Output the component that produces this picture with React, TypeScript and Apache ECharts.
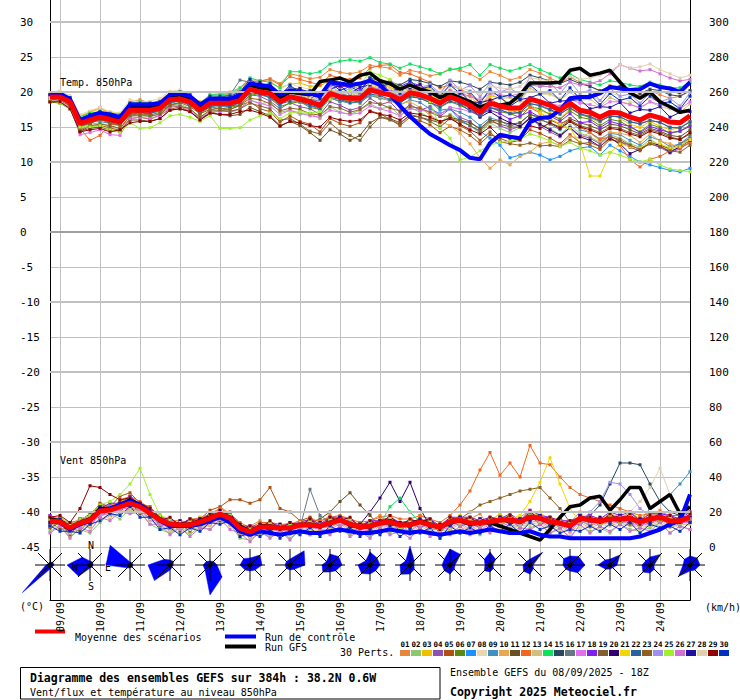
import React, { useEffect, useRef } from "react";
import * as echarts from "echarts";

const FONT = "'DejaVu Sans Mono', 'Liberation Mono', monospace";

// forecast steps (hours from 08/09 18Z), 6h
const STEPS = Array.from({ length: 65 }, (_, i) => String(i * 6));
const DAY_LABELS = ["09/09", "10/09", "11/09", "12/09", "13/09", "14/09", "15/09", "16/09", "17/09", "18/09", "19/09", "20/09", "21/09", "22/09", "23/09", "24/09"];

const PERT_COLORS = ["#e8873a", "#8cc870", "#f0c000", "#9050b0", "#b05010", "#5a8a10", "#1e90ff", "#e8d8b0", "#4090c0", "#e8a850", "#6a5020", "#f06820", "#d0c080", "#10e060", "#284860", "#687880", "#e070f0", "#8020f0", "#806030", "#300070", "#f0d800", "#2860a0", "#906020", "#a090f0", "#a0f030", "#d070d0", "#2010a0", "#e0d0b0", "#900000", "#0030c0"];

// ---- Temperature 850hPa (°C)
const MEAN_T = [19.3, 19.3, 18.6, 15.5, 16, 16.4, 16.1, 15.7, 17.4, 17.4, 17.4, 17.7, 18.9, 19, 18.6, 17.4, 18.4, 18.4, 18.4, 18.8, 20.4, 20, 19.8, 18.6, 19.3, 19, 18.6, 18.1, 19.8, 19.3, 19.1, 19.1, 20.3, 19.9, 19.6, 18.9, 19.9, 19.6, 19.1, 18.4, 19.3, 18.8, 18.1, 17.1, 18.4, 18, 17.7, 17.7, 19, 18.6, 18.1, 17.4, 18.4, 17.4, 17.1, 16.4, 17.1, 17, 16.4, 16, 16.7, 16.3, 15.7, 15.6, 16.6];
const CTRL_T = [19.6, 19.8, 19, 16, 16.6, 17, 16.8, 16.4, 18.2, 18.2, 18.2, 18.4, 19.6, 19.8, 19.4, 18.2, 19, 19, 19, 19.6, 21.2, 21, 20.8, 19.6, 20.2, 20, 19.8, 19.4, 21.4, 21.2, 21, 21.2, 21.6, 21, 19.6, 18, 16.5, 15.2, 14, 13.2, 12.4, 11.7, 10.6, 10.4, 12.7, 13.9, 13.6, 13.4, 15.7, 16.3, 16.4, 17.4, 19.1, 19.3, 19.3, 19.8, 20.7, 20.5, 20.3, 20.4, 21.2, 20.7, 20.5, 20, 21.4];
const GFS_T = [19.4, 19.6, 18.8, 15.8, 16.4, 16.8, 16.4, 16, 17.8, 17.8, 17.8, 18, 19.4, 19.6, 19, 17.8, 18.8, 18.8, 18.8, 19.4, 21, 20.6, 20.4, 19.2, 20, 19.8, 19.6, 21.5, 21.7, 22, 21.4, 22.4, 22.7, 21.6, 21.2, 20.4, 21, 20.4, 20, 19.2, 19.8, 19.2, 18.6, 17.8, 18.4, 18.1, 18.4, 19.6, 21.3, 21.3, 21.3, 21.4, 23.1, 23.4, 22.4, 22.7, 23.1, 21.4, 19.9, 19.1, 20, 18.6, 17.9, 17.1, 17.4];

const T01 = [19.6, 20, 19.2, 16.4, 17.2, 17.8, 16.8, 16.2, 18.6, 18.9, 18.4, 18.8, 19.9, 19.7, 19.3, 18, 19.5, 19.8, 19.6, 20.4, 21.8, 21.5, 21.9, 21.2, 22.6, 22.3, 21.9, 22.1, 23.2, 22.8, 22.6, 22.9, 23.8, 23.6, 23.4, 22.4, 23.1, 22.8, 22.3, 22.6, 23.3, 23.1, 22.6, 21.8, 22.9, 22.4, 21.7, 22.1, 23.2, 22.7, 22, 21.3, 22.1, 21.4, 20.8, 20.1, 20.9, 20.6, 19.8, 19.5, 20.2, 19.6, 19.1, 19.4, 20.1];
const T02 = [19, 19.1, 18.2, 14.9, 15.4, 15.6, 15.1, 14.7, 16.5, 16.8, 16.4, 16.9, 18.1, 18.3, 17.6, 16.3, 17.4, 17.8, 17.1, 17.5, 18.9, 18.3, 18.6, 17.1, 17.4, 16.8, 16.9, 16.2, 17.9, 17.1, 16.8, 17.4, 18.3, 17.6, 17.9, 16.6, 17.8, 17.1, 16.3, 15.6, 16.8, 15.9, 15.2, 14.1, 15.6, 14.8, 14.2, 14.9, 16.3, 15.4, 14.8, 13.9, 15.2, 14.1, 13.6, 12.8, 13.9, 13.4, 12.6, 12.1, 13.2, 12.4, 11.8, 12.3, 13.4];
const T03 = [19.7, 19.9, 19.3, 16.6, 17.1, 17.6, 17.1, 16.9, 18.3, 18.5, 18.6, 18.4, 19.4, 20.1, 19.5, 18.6, 19.1, 19.4, 19.7, 19.9, 21.2, 20.9, 21.3, 20.6, 21.1, 21.3, 20.8, 20.9, 21.6, 21.1, 20.7, 21, 21.9, 21.3, 20.6, 20.2, 21.1, 20.4, 20.6, 19.4, 20.1, 19.3, 18.8, 17.9, 19.5, 19.1, 18.4, 19, 17.8, 17.3, 16.9, 16.2, 17.6, 16.8, 16.3, 15.6, 16.8, 16.2, 15.4, 14.9, 15.8, 15.1, 14.6, 14.9, 15.8];
const T04 = [19.2, 19.5, 18.9, 15.4, 16.4, 16.9, 16.5, 15.6, 17.9, 17.3, 17.1, 17.9, 19.2, 19.1, 18.4, 17, 18.4, 18.1, 18, 18.2, 19.6, 19.4, 18.7, 17.6, 18.5, 17.9, 17.6, 16.8, 18.6, 18.1, 17.4, 17.8, 19.1, 18.2, 18.6, 17.1, 18.2, 17.4, 17.9, 16.5, 17.6, 16.4, 15.8, 14.6, 16.1, 15.2, 14.6, 15.1, 16.4, 15.1, 14.3, 13.6, 14.9, 13.8, 13.4, 12.6, 13.8, 12.9, 12.4, 11.8, 12.6, 12.1, 11.3, 11.9, 12.8];
const T05 = [18.7, 18.5, 17.8, 14.4, 15.1, 15.2, 14.9, 14.5, 16.2, 16.4, 16.1, 16.7, 17.5, 17.9, 17.2, 16, 16.9, 17.4, 17.5, 18.1, 18.6, 17.6, 17.2, 15.7, 16.6, 15.8, 15.4, 14.3, 16.2, 15.5, 15.1, 15.6, 17.3, 16.9, 16.1, 15.2, 16.4, 15.9, 15.3, 14.2, 15.1, 14.6, 13.8, 12.6, 13.9, 13.4, 12.8, 13.1, 14.6, 14.1, 13.4, 12.6, 13.9, 12.8, 12.4, 11.8, 13.2, 12.9, 12.1, 11.6, 12.8, 12.4, 11.9, 12.6, 13.4];
const T06 = [19.3, 19, 18.3, 15.1, 15.6, 16.4, 15.7, 15.2, 17.1, 16.8, 17, 17.3, 18.2, 18.5, 18.4, 16.8, 17.9, 17.6, 17.8, 18.1, 19.5, 19.8, 19.1, 17.9, 18.4, 18.6, 17.8, 17.5, 19.2, 18.6, 18.9, 18.4, 19.6, 19.2, 18.8, 18.4, 19.5, 19.1, 18.5, 17.8, 18.6, 18.1, 17.4, 16.5, 17.8, 17.2, 16.9, 16.4, 17.9, 17.6, 16.8, 16.1, 17.3, 16.4, 16.1, 15.2, 16.1, 15.8, 15, 14.3, 15.4, 14.9, 14.1, 14.4, 15.3];
const T07 = [19.4, 19.4, 18.8, 15.8, 16.2, 16.8, 16.4, 16, 17.8, 17.8, 17.6, 18, 19.2, 19.2, 18.8, 17.8, 18.6, 18.6, 18.8, 19.2, 20.8, 20.4, 20, 19, 19.6, 19.4, 19, 18.6, 20, 19.6, 19.4, 19.4, 20.6, 20.2, 19.8, 19, 19.8, 19.2, 18.6, 17.4, 17.6, 16, 15.2, 14.4, 13.4, 12.4, 10.6, 11, 11.4, 11, 10.3, 10.8, 11.6, 12, 12.2, 11, 12.4, 11.6, 10.8, 10, 9.6, 9.2, 8.8, 8.6, 9.1];
const T08 = [19.9, 20.2, 19.5, 16.8, 17.3, 17.8, 17.2, 17, 18.9, 18.6, 18.7, 19.1, 20.1, 20.3, 19.7, 18.5, 19.6, 19.9, 20.1, 20.6, 22, 21.4, 21.7, 20.4, 21.2, 20.7, 20.4, 19.8, 21.6, 21.1, 21.3, 20.8, 22.4, 21.8, 21.5, 20.6, 21.9, 21.2, 20.7, 19.9, 21.2, 20.6, 19.6, 18.9, 20.2, 19.4, 19.3, 18.6, 20.4, 19.7, 19.6, 19.1, 20.3, 19.2, 19.4, 18.8, 19.9, 19.4, 18.6, 18.4, 19.1, 18.6, 17.9, 18.1, 19.2];
const T09 = [19.1, 19.3, 18.1, 15.3, 15.9, 15.8, 15.5, 15.3, 17.3, 17.1, 16.9, 17.3, 18.4, 18.8, 18.1, 17.3, 18.2, 17.9, 18.1, 18.6, 20.2, 19.6, 19.2, 18.1, 19.4, 18.5, 18.1, 17.5, 19.1, 18.7, 18.4, 18.6, 19.5, 19.1, 18.8, 18.1, 18.9, 18.5, 17.6, 16.9, 17.6, 17.1, 16.4, 15.2, 16.3, 15.9, 15.1, 15.6, 16.8, 16.2, 15.4, 14.6, 15.8, 14.6, 14.2, 13.3, 14.1, 13.9, 13.1, 12.4, 13.6, 13.1, 12.2, 12.6, 13.7];
const T10 = [19.2, 19.5, 18.7, 15.3, 16.1, 16.3, 16.1, 15.5, 17.5, 17.7, 17.3, 17.5, 18.7, 19.1, 18.5, 17.5, 18.3, 18.1, 18.6, 18.9, 20.3, 20.1, 19.5, 18.7, 19.1, 18.6, 18.5, 17.8, 19.7, 18.9, 18.6, 18.9, 19.6, 19.3, 18.7, 18.3, 18.6, 17.8, 16.7, 15.8, 15.2, 14.1, 12.6, 10.6, 9.1, 10.3, 9.6, 10.8, 11.4, 12.6, 12.9, 12.4, 13.6, 13.5, 14.2, 13, 14.3, 14.1, 13.8, 12.8, 14, 13, 12.6, 12.1, 13];
const T11 = [18.6, 18.4, 17.6, 14.4, 14.8, 15, 14.6, 14.4, 16, 16, 15.8, 16.2, 17.4, 17.6, 17.2, 16.2, 17, 16.8, 16.6, 16.8, 17.8, 17.2, 16.6, 15.2, 15.8, 15.2, 14.2, 13.1, 14.6, 14, 13.1, 13.8, 15.6, 16.4, 16.2, 15.6, 16.6, 16.4, 16, 15.6, 16.4, 16, 15.6, 14.8, 16, 15.8, 15.4, 15.6, 16.8, 16.4, 16, 15.4, 16.2, 15.6, 15.2, 14.6, 15.4, 15.2, 14.6, 14, 14.8, 14.4, 13.8, 13.6, 14.6];
const T12 = [19, 19, 18, 14.8, 13.1, 13.8, 15.4, 15.2, 17.2, 17, 17.2, 17.6, 18.8, 18.6, 18.4, 17, 18.4, 18.4, 18.6, 19.4, 21.4, 21.6, 21.8, 21, 22.2, 21.8, 21.4, 21, 22.4, 22, 21.8, 22, 23.4, 23.8, 23.9, 22.8, 22.6, 22, 21.4, 20.6, 21, 20.4, 19.6, 18.4, 19, 18.2, 17.4, 17, 17.8, 17, 16.2, 15.4, 16, 15, 14.2, 13.2, 13.6, 12.4, 10.3, 9.3, 10.4, 10.8, 11.6, 12, 12.8];
const T13 = [19.5, 19.7, 18.9, 15.9, 16.3, 16.9, 16.5, 16.1, 17.9, 17.6, 17.9, 18.1, 19.1, 19.5, 18.9, 17.9, 18.9, 18.6, 18.9, 19.3, 20.9, 20.4, 20.3, 19.1, 19.9, 19.4, 19.3, 18.5, 20.3, 19.6, 19.8, 19.4, 20.9, 20.4, 20.3, 19.4, 20.7, 20.2, 19.9, 18.9, 20.3, 19.6, 19.3, 18.1, 19.7, 19.1, 19.2, 18.8, 20.6, 19.8, 19.8, 18.8, 20, 18.8, 19, 17.9, 19.2, 18.6, 18.3, 17.6, 18.6, 17.9, 17.6, 17.1, 18.3];
const T14 = [19.6, 19.8, 19.2, 16.4, 17, 17.2, 17, 16.8, 18.4, 18.6, 18.4, 18.6, 19.8, 20, 19.6, 18.4, 19.6, 19.6, 19.8, 20.6, 22, 21.6, 21.4, 20.6, 22.9, 22.9, 22.6, 22.9, 24, 24.4, 24.6, 24.4, 24.9, 24.2, 24, 23.4, 24, 23.6, 23.2, 22.6, 23.2, 23.4, 23.9, 22.4, 23.9, 23.4, 23, 23.4, 23.9, 23.2, 22.6, 22, 22.6, 21.8, 21.4, 21, 21.6, 21.4, 21, 20.8, 21.4, 21, 20.6, 20.6, 21.4];
const T15 = [19.2, 19.4, 18.6, 15.6, 16.2, 16.6, 16.4, 16, 17.6, 17.6, 17.6, 18, 19.2, 19.4, 19, 17.8, 18.8, 19, 19, 19.6, 21.2, 21, 20.8, 19.8, 20.6, 20.4, 20, 19.8, 21.2, 20.8, 20.8, 21, 22, 21.6, 21.4, 21, 21.8, 21.6, 21.2, 20.8, 21.6, 21.4, 21, 20.4, 21.4, 21.2, 21, 21.4, 22.4, 22, 21.6, 21.2, 21.8, 21.2, 20.8, 20.2, 20.8, 20.8, 20.2, 19.8, 20.4, 20.2, 19.6, 19.4, 20.2];
const T16 = [19.2, 19.2, 18.6, 15.6, 16.2, 16.6, 16.2, 15.8, 17.4, 17.6, 17.4, 17.8, 19, 19.2, 18.8, 17.6, 18.8, 19.2, 19.6, 21.7, 21.4, 20.6, 20.4, 19.2, 19.8, 19.6, 19.2, 18.6, 20.2, 19.8, 19.4, 19.6, 20.8, 20.2, 20, 19.2, 20, 19.6, 19, 18.4, 19, 18.4, 17.6, 16.6, 17.8, 17.4, 17, 17, 18.4, 18, 17.4, 16.8, 17.8, 16.8, 16.4, 15.8, 16.6, 16.4, 15.8, 15.4, 16, 15.6, 15, 14.8, 15.8];
const T17 = [18.8, 18.6, 17.8, 13.9, 14.2, 14.6, 13.9, 13.8, 16.2, 16.4, 16.2, 16.6, 17.8, 18, 17.4, 16.2, 17.2, 17.2, 17.2, 17.6, 18.8, 18.4, 18, 16.8, 17.4, 17, 16.6, 16.4, 17.4, 17.1, 16.8, 17, 18, 17.6, 17.2, 16.6, 17.6, 17.4, 17.2, 16.8, 17.8, 17.6, 17.2, 16.6, 17.8, 17.6, 17.4, 17.6, 19, 18.6, 18.4, 18, 19, 18.4, 18.2, 17.8, 18.6, 18.6, 18.2, 17.8, 18.6, 18.2, 17.8, 17.6, 18.6];
const T18 = [19.4, 19.7, 18.9, 15.9, 16.5, 16.4, 16.6, 15.9, 17.5, 17.9, 17.9, 18.1, 19.3, 19.2, 19.1, 17.7, 18.5, 18.9, 18.7, 19.4, 20.8, 20.1, 20.6, 19.3, 20.1, 19.9, 19.6, 19.2, 21, 20.7, 20.9, 20.4, 21.8, 21.2, 21.6, 20.8, 21.4, 20.9, 20.1, 19.4, 19.2, 18.4, 17.9, 16.8, 17.4, 16.9, 16.1, 16.6, 17.2, 16.4, 16.6, 15.8, 16.9, 15.6, 15.8, 14.9, 15.8, 15.4, 15.1, 14.2, 15.1, 14.6, 14.2, 14.4, 15.1];
const T19 = [18.6, 18.8, 18, 14.6, 15.2, 15.4, 15.2, 14.8, 16.6, 16.6, 16.6, 16.8, 18, 18, 17.6, 16.4, 17.4, 17.4, 17.2, 17.6, 18.4, 18, 17.6, 16, 16.2, 15.4, 14.4, 14, 15.6, 14.4, 13.8, 13.1, 15, 16.4, 16, 15.4, 16.8, 16.4, 15.8, 15, 16.2, 15.8, 15.2, 14.4, 15.8, 15.4, 15, 15, 16.4, 16, 15.6, 15, 16, 15.2, 14.8, 14.2, 15, 14.8, 14.2, 13.8, 14.6, 14.2, 13.6, 13.2, 14];
const T20 = [19.2, 19.4, 18.5, 15.7, 15.9, 16.5, 16.1, 15.7, 17.3, 17.7, 17.3, 17.7, 18.9, 18.9, 18.7, 17.3, 18.5, 18.5, 18.3, 18.9, 20.3, 20.3, 19.7, 18.7, 19.3, 19.3, 18.5, 18.3, 19.7, 19.5, 19.1, 19.3, 20.3, 20.1, 19.7, 19.1, 20.1, 19.9, 19.3, 18.7, 19.3, 18.6, 17.8, 16.4, 17.2, 16.3, 15.6, 15.1, 16.2, 15.4, 14.6, 13.8, 14.9, 13.6, 13.1, 12.2, 13.4, 12.6, 11.2, 11.8, 12.9, 12.3, 11.4, 12.2, 13.1];
const T21 = [19.4, 19.4, 18.8, 15.8, 16.2, 16.8, 16.4, 16, 17.6, 17.6, 17.6, 18, 19.2, 19.4, 18.8, 17.6, 18.6, 18.6, 18.8, 19.2, 20.8, 20.4, 20, 19.4, 20, 19.6, 19.2, 18.8, 20.4, 20, 19.8, 19.8, 21, 20.6, 20.2, 19.6, 20.4, 20, 19.6, 18.8, 19.6, 19, 18.4, 17.4, 18.4, 17.8, 17.4, 17.4, 18.4, 17, 16.2, 15.4, 14.8, 12.7, 8, 8, 11.3, 12.6, 12.2, 12, 12.8, 12.6, 12, 12.2, 13.2];
const T22 = [19, 19.1, 18.3, 15.3, 15.5, 16.1, 15.7, 15.5, 16.9, 17.1, 16.9, 17.5, 18.5, 18.7, 18.1, 17.1, 17.9, 18.1, 17.9, 18.5, 19.9, 19.7, 19.3, 18.3, 18.7, 18.7, 18.1, 17.7, 19.3, 18.9, 18.5, 18.7, 19.7, 19.5, 18.9, 18.5, 19.3, 19.1, 18.5, 17.9, 18.7, 18.3, 17.3, 16.6, 17.7, 17.5, 16.9, 17.1, 18.3, 18.1, 17.5, 16.9, 17.7, 16.9, 16.5, 15.9, 16.5, 16.5, 15.7, 15.5, 15.9, 15.7, 14.9, 14.9, 15.7];
const T23 = [18.8, 19.1, 18.1, 15.1, 15.5, 16.1, 15.5, 15.3, 16.7, 16.9, 16.7, 17.1, 18.1, 18.5, 17.9, 16.9, 17.5, 17.7, 17.5, 18.1, 19.1, 18.9, 18.3, 17.3, 17.7, 17.5, 16.9, 16.7, 17.9, 17.7, 17.1, 17.5, 18.5, 18.3, 17.7, 17.3, 17.9, 17.7, 17.1, 16.5, 16.6, 15.2, 14.4, 13.1, 14.3, 12.9, 12.6, 12.4, 12.7, 12.3, 12.4, 12.2, 13.1, 12.6, 12.8, 12.2, 13.6, 13.2, 12.4, 11.8, 12.6, 12.2, 11.6, 11.4, 12.4];
const T24 = [19.6, 19.8, 19, 16, 16.6, 17, 16.6, 16.2, 17.8, 18, 17.8, 18.2, 19.4, 19.6, 19.2, 18, 19, 19, 19, 19.4, 21.3, 20.2, 20.9, 19, 20.4, 19.5, 19.8, 18.7, 21, 19.9, 20.5, 19.7, 21.6, 20.6, 21.1, 19.6, 21.6, 20.5, 21.1, 19.8, 21.7, 20.3, 20.9, 19.3, 21.3, 20, 20.5, 19.7, 22.1, 20.8, 21.3, 19.8, 21.5, 19.8, 20.3, 18.8, 20.5, 19.4, 19.7, 18.4, 19.9, 18.6, 19.1, 18, 19.9];
const T25 = [18.8, 18.4, 17.6, 15, 15, 15.2, 14.6, 14.2, 15.6, 14.8, 14.9, 15.6, 16.6, 16.8, 16.4, 15.8, 16.6, 14.8, 14.8, 14.9, 16, 16.6, 17, 16.2, 17, 17.2, 17, 17.2, 19, 19.6, 20.2, 21, 22.9, 22.4, 21.8, 20.6, 20.2, 19.4, 18.6, 14.8, 13.4, 10.3, 10.7, 11.6, 12.4, 12.8, 13, 13.2, 14, 13.6, 13, 12.2, 12.8, 12, 11.6, 11, 11.4, 11, 10.4, 10, 10.4, 9.6, 9, 8.8, 8.6];
const T26 = [19.4, 19.6, 18.8, 15.6, 16.2, 16.6, 16.2, 16, 17.6, 17.8, 17.6, 18, 19.2, 19.4, 19, 17.8, 18.6, 18.8, 18.8, 19.2, 20.6, 20.2, 20, 18.8, 19.6, 19.2, 18.8, 18.4, 20, 19.6, 19.4, 19.4, 20.6, 20.4, 20, 19.4, 20.4, 20.2, 19.8, 19.2, 20.2, 19.8, 19.4, 18.8, 19.8, 19.6, 19.4, 19.8, 21, 20.8, 20.8, 20.6, 21.4, 21, 21.2, 21.6, 22.6, 23.9, 23.4, 23, 23.2, 22.6, 22, 21.6, 21.8];
const T27 = [19.6, 19.8, 19, 16, 16.6, 17, 16.8, 16.4, 18.2, 18.2, 18, 18.4, 19.6, 19.8, 19.4, 18.2, 19.2, 19.2, 19.2, 19.8, 20.9, 21.4, 20.3, 20, 19.8, 20.5, 19.1, 19.7, 20.4, 20.9, 19.7, 20.7, 21, 21.5, 20.1, 20.5, 20.6, 21.1, 19.6, 19.9, 19.8, 20.1, 18.6, 18.5, 18.8, 19.3, 18, 18.9, 19.2, 19.7, 18.4, 18.7, 18.8, 18.9, 17.6, 17.9, 17.8, 18.5, 17, 17.5, 17.4, 17.9, 16.4, 17.1, 17.2];
const T28 = [19.2, 19.4, 18.8, 15.8, 16.4, 16.8, 16.4, 16, 17.6, 17.8, 17.8, 18, 19.2, 19.4, 19, 17.8, 18.8, 18.8, 19, 19.4, 20.8, 20.6, 20.2, 19.2, 19.8, 19.6, 19.2, 18.8, 20.4, 20, 19.8, 20, 21.2, 20.8, 20.4, 19.8, 20.8, 20.6, 20.2, 19.8, 20.8, 20.6, 20.2, 19.8, 20.8, 20.6, 20.4, 20.8, 22, 21.8, 21.6, 21.4, 22.2, 21.8, 22, 22.4, 23, 23.9, 23.4, 23.6, 24, 23.2, 22.6, 22, 22.4];
const T29 = [18.6, 18.6, 17.6, 14.3, 14.6, 14.8, 14.3, 14.6, 15.6, 15.8, 15.8, 16.2, 17.4, 17.6, 17.2, 16, 17, 16.8, 16.8, 17.2, 17.4, 17, 16.4, 15.1, 15.8, 15.6, 15.2, 15, 16.4, 16, 15.8, 16, 17.2, 16.8, 16.6, 16, 17, 16.8, 16.4, 15.8, 16.2, 15.4, 14.6, 14, 15, 13.6, 13.4, 13.2, 15.2, 14.8, 15.6, 14.8, 15.8, 15, 14.6, 14, 14.8, 14.6, 14, 13.6, 14.4, 14, 13.4, 13.2, 14.2];
const T30 = [19.6, 19.8, 19.2, 16.2, 16.8, 17.2, 16.8, 16.6, 18.4, 18.4, 18.4, 18.6, 19.8, 20, 19.6, 18.4, 19.4, 19.4, 19.4, 20, 21.8, 20.8, 21.2, 19.4, 21, 19.8, 20.2, 19, 21.4, 20.2, 20.8, 20, 22, 20.8, 21.2, 19.8, 21.6, 20.4, 20.8, 19.4, 21, 19.8, 20, 18.4, 20.4, 19.2, 19.6, 19, 21, 19.8, 20.2, 18.8, 20.6, 19, 19.6, 18.2, 19.8, 18.8, 19.2, 18, 19.4, 18.4, 18.6, 17.6, 19.4];

// ---- Wind 850hPa (km/h)
const MEAN_W = [14.9, 14.4, 10.8, 13.7, 15.4, 20.6, 21.1, 23, 25, 23, 19.4, 15.4, 13.1, 12.6, 12.6, 14.4, 16.4, 18.9, 16.4, 10.8, 8.6, 11.4, 11.4, 11, 10.8, 12.6, 12.6, 12, 13.7, 15.4, 13.1, 11.4, 12, 13.7, 14.4, 12.6, 12.6, 14.4, 12.6, 11.4, 14.4, 15.4, 13.7, 13.9, 14.4, 15.4, 15.4, 14.4, 17.1, 16.4, 14.4, 13.7, 12, 16.4, 15.4, 14.9, 16, 16, 16.4, 14.4, 16, 17.1, 14.9, 14.9, 17.1];
const CTRL_W = [15, 14, 10, 13, 15, 21, 22, 24, 26, 24, 20, 15, 12, 12, 12, 13, 15, 17, 14, 9, 7, 9, 8, 7, 8, 9, 8, 8, 9, 10, 9, 8, 8, 9, 10, 9, 8, 9, 8, 7, 8, 9, 8, 9, 10, 9, 8, 8, 9, 7, 6, 6, 5, 5, 5, 5, 5, 5, 5, 6, 8, 10, 13, 15, 30];
const GFS_W = [16, 15, 11, 14, 16, 22, 22, 24, 27, 24, 20, 16, 13, 13, 13, 15, 17, 19, 17, 12, 9, 12, 12, 11, 11, 13, 13, 12, 14, 16, 13, 11, 12, 14, 15, 13, 13, 15, 13, 11, 14, 15, 13, 14, 14, 12, 10, 8, 6, 4, 10, 17, 23, 24, 28, 29, 21, 27, 34, 34, 22, 26, 30, 19, 23];

const W01 = [18, 16, 13, 12, 19, 24, 18, 27, 29, 21, 23, 14, 16, 10, 15, 17, 14, 23, 19, 10, 12, 15, 9, 12, 14, 11, 17, 14, 18, 13, 16, 10, 15, 18, 12, 14, 11, 18, 16, 9, 17, 13, 16, 19, 11, 18, 15, 17, 21, 14, 17, 11, 14, 20, 13, 17, 14, 20, 15, 17, 14, 21, 13, 18, 16];
const W02 = [9, 12, 6, 10, 8, 14, 19, 16, 22, 20, 13, 10, 8, 11, 7, 12, 10, 15, 13, 5, 4, 8, 6, 9, 5, 9, 7, 10, 8, 12, 7, 9, 6, 10, 8, 11, 7, 9, 10, 5, 10, 8, 11, 7, 12, 9, 13, 8, 11, 13, 8, 10, 6, 12, 9, 11, 8, 13, 10, 9, 11, 14, 8, 12, 10];
const W03 = [14, 17, 12, 16, 13, 25, 21, 22, 29, 24, 18, 19, 12, 15, 11, 17, 16, 21, 17, 14, 8, 13, 14, 10, 13, 12, 15, 11, 16, 14, 15, 13, 10, 15, 17, 12, 14, 16, 11, 13, 14, 18, 13, 16, 15, 19, 14, 17, 16, 20, 15, 17, 12, 16, 18, 14, 19, 15, 20, 14, 18, 16, 17, 14, 19];
const W04 = [12, 15, 9, 14, 17, 19, 24, 21, 27, 22, 20, 13, 14, 12, 13, 15, 18, 17, 15, 12, 7, 12, 10, 13, 9, 14, 11, 12, 12, 17, 11, 13, 14, 11, 16, 10, 13, 15, 12, 12, 12, 16, 11, 14, 16, 13, 17, 12, 19, 15, 13, 15, 10, 17, 14, 16, 15, 18, 14, 15, 14, 18, 16, 13, 18];
const W05 = [17, 15, 13, 16, 17, 25, 23, 29, 31, 25, 23, 17, 16, 13, 16, 16, 21, 23, 27, 27, 25, 27, 34, 22, 20, 15, 17, 12, 15, 14, 12, 14, 11, 15, 13, 14, 12, 16, 13, 13, 14, 17, 13, 16, 14, 17, 15, 16, 16, 17, 14, 15, 11, 18, 14, 16, 15, 17, 16, 16, 15, 18, 14, 16, 16];
const W06 = [13, 16, 10, 15, 14, 22, 20, 23, 24, 24, 18, 16, 12, 13, 11, 15, 15, 19, 17, 9, 9, 10, 12, 10, 11, 11, 13, 13, 12, 16, 12, 12, 11, 14, 13, 13, 11, 15, 11, 12, 13, 16, 12, 15, 13, 16, 14, 15, 16, 17, 13, 14, 13, 15, 16, 14, 17, 15, 17, 13, 17, 16, 16, 14, 18];
const W07 = [16, 13, 12, 13, 17, 21, 22, 22, 26, 21, 20, 14, 14, 12, 14, 13, 18, 18, 17, 10, 10, 11, 12, 10, 12, 12, 14, 11, 15, 14, 14, 10, 13, 13, 15, 12, 14, 13, 14, 10, 15, 14, 15, 13, 15, 14, 16, 13, 18, 15, 15, 13, 11, 17, 14, 16, 15, 17, 15, 15, 15, 18, 14, 16, 16];
const W08 = [13, 10, 9, 8, 13, 15, 19, 18, 23, 19, 17, 11, 11, 8, 11, 10, 14, 14, 14, 7, 7, 7, 9, 6, 9, 8, 10, 8, 11, 10, 10, 7, 10, 9, 11, 8, 10, 9, 10, 7, 11, 10, 11, 9, 11, 10, 13, 10, 14, 11, 12, 9, 10, 11, 12, 10, 13, 12, 14, 10, 13, 12, 13, 11, 15];
const W09 = [13, 17, 10, 16, 14, 23, 20, 24, 23, 25, 17, 18, 11, 15, 12, 16, 19, 17, 19, 10, 12, 10, 14, 9, 14, 12, 16, 10, 17, 14, 16, 11, 14, 12, 17, 11, 15, 13, 15, 9, 16, 14, 17, 12, 16, 14, 18, 12, 19, 15, 17, 12, 15, 15, 18, 13, 19, 16, 20, 15, 22, 26, 30, 36, 43];
const W10 = [17, 14, 13, 14, 18, 21, 24, 24, 29, 24, 22, 16, 16, 13, 15, 15, 19, 20, 19, 12, 11, 12, 14, 11, 13, 13, 15, 13, 17, 16, 16, 12, 15, 15, 17, 13, 15, 15, 15, 12, 17, 16, 17, 15, 17, 16, 18, 15, 20, 17, 17, 15, 15, 17, 18, 16, 19, 17, 20, 16, 19, 18, 18, 16, 20];
const W11 = [15, 10, 11, 9, 16, 17, 22, 20, 26, 19, 20, 12, 14, 9, 14, 11, 17, 15, 17, 8, 10, 8, 12, 8, 12, 10, 14, 16, 20, 26, 31, 24, 18, 12, 15, 9, 14, 11, 14, 8, 15, 12, 14, 11, 15, 12, 16, 11, 18, 13, 15, 11, 13, 13, 16, 12, 17, 13, 17, 11, 17, 14, 16, 12, 18];
const W12 = [16, 17, 13, 16, 18, 24, 23, 26, 29, 26, 22, 17, 15, 15, 14, 16, 19, 22, 19, 14, 11, 14, 14, 13, 13, 15, 15, 15, 17, 18, 16, 14, 15, 17, 18, 16, 16, 18, 16, 14, 18, 24, 32, 44, 54, 41, 48, 40, 58, 48, 47, 40, 34, 30, 28, 26, 24, 22, 20, 18, 19, 20, 18, 18, 20];
const W13 = [11, 12, 7, 12, 11, 19, 16, 21, 21, 21, 15, 13, 9, 11, 9, 12, 12, 17, 12, 9, 5, 9, 8, 9, 7, 11, 9, 10, 10, 13, 9, 9, 8, 12, 10, 10, 8, 12, 9, 9, 10, 13, 9, 12, 10, 13, 11, 12, 13, 14, 10, 12, 8, 14, 11, 13, 12, 14, 12, 12, 12, 15, 11, 13, 13];
const W14 = [16, 13, 12, 13, 17, 20, 23, 23, 27, 22, 21, 14, 14, 12, 14, 13, 18, 18, 18, 10, 10, 10, 13, 10, 12, 12, 14, 11, 15, 15, 14, 11, 13, 13, 23, 28, 20, 14, 14, 10, 15, 14, 15, 13, 15, 14, 16, 13, 18, 15, 15, 13, 13, 15, 16, 14, 17, 15, 17, 13, 17, 16, 16, 14, 18];
const W15 = [12, 16, 9, 15, 13, 21, 19, 24, 23, 23, 17, 16, 11, 14, 10, 15, 14, 19, 14, 12, 7, 12, 9, 12, 9, 13, 11, 13, 12, 16, 11, 12, 10, 15, 12, 13, 11, 15, 11, 12, 12, 16, 12, 15, 12, 16, 13, 15, 15, 17, 12, 15, 11, 16, 18, 24, 36, 48, 48, 47, 36, 26, 20, 18, 17];
const W16 = [15, 12, 12, 11, 16, 18, 22, 20, 26, 20, 19, 12, 14, 10, 14, 11, 17, 16, 17, 8, 10, 8, 12, 9, 12, 11, 33, 18, 14, 12, 14, 9, 13, 11, 15, 10, 13, 11, 14, 8, 15, 12, 14, 11, 15, 12, 16, 11, 18, 13, 15, 11, 13, 13, 16, 12, 17, 13, 17, 11, 17, 14, 16, 12, 18];
const W17 = [11, 14, 8, 13, 12, 19, 18, 22, 22, 21, 16, 14, 10, 12, 10, 13, 13, 17, 13, 10, 6, 10, 9, 10, 8, 12, 10, 11, 11, 14, 10, 10, 9, 13, 11, 11, 9, 13, 10, 10, 11, 14, 10, 13, 11, 14, 12, 13, 14, 15, 11, 13, 9, 15, 12, 14, 13, 15, 13, 13, 13, 16, 12, 14, 14];
const W18 = [18, 15, 14, 15, 19, 22, 25, 25, 29, 24, 22, 16, 16, 13, 16, 15, 19, 20, 19, 12, 12, 12, 14, 12, 13, 14, 16, 13, 17, 17, 16, 12, 15, 15, 17, 14, 15, 15, 16, 12, 17, 17, 17, 15, 17, 16, 19, 15, 21, 18, 17, 15, 15, 17, 18, 16, 20, 18, 20, 15, 19, 19, 18, 16, 20];
const W19 = [14, 15, 10, 15, 14, 22, 21, 25, 25, 25, 18, 16, 12, 14, 12, 16, 16, 20, 16, 12, 8, 12, 11, 12, 10, 14, 12, 13, 13, 17, 12, 13, 12, 15, 14, 14, 12, 16, 12, 13, 13, 17, 13, 15, 14, 17, 15, 16, 16, 18, 14, 15, 11, 18, 15, 16, 15, 18, 16, 16, 15, 19, 14, 16, 17];
const W20 = [12, 17, 9, 16, 13, 23, 19, 25, 23, 25, 17, 17, 11, 15, 11, 16, 14, 21, 14, 13, 7, 13, 9, 13, 9, 14, 11, 14, 12, 17, 11, 13, 20, 28, 37, 26, 37, 22, 12, 13, 12, 17, 12, 16, 12, 17, 13, 16, 15, 18, 12, 16, 10, 18, 13, 17, 14, 18, 14, 16, 14, 19, 13, 17, 15];
const W21 = [17, 12, 13, 11, 17, 18, 23, 21, 27, 20, 21, 13, 15, 10, 14, 12, 18, 16, 18, 8, 10, 9, 13, 9, 12, 10, 14, 10, 15, 13, 15, 9, 14, 11, 16, 10, 14, 12, 14, 9, 16, 13, 15, 12, 16, 13, 16, 18, 26, 37, 51, 36, 22, 14, 17, 13, 18, 14, 18, 12, 18, 15, 17, 13, 19];
const W22 = [17, 14, 13, 14, 17, 21, 23, 23, 27, 23, 21, 15, 15, 12, 14, 14, 18, 19, 18, 11, 11, 11, 13, 11, 13, 12, 14, 12, 16, 15, 15, 11, 14, 14, 16, 12, 15, 14, 15, 11, 16, 15, 16, 14, 16, 15, 17, 14, 19, 16, 16, 14, 14, 16, 17, 15, 18, 16, 18, 14, 18, 17, 17, 15, 19];
const W23 = [11, 14, 7, 14, 12, 21, 18, 24, 22, 23, 16, 16, 10, 13, 9, 15, 13, 19, 13, 12, 6, 12, 8, 12, 8, 14, 10, 13, 11, 16, 10, 12, 9, 15, 11, 13, 9, 15, 10, 12, 11, 16, 20, 24, 26, 28, 30, 32, 33, 34, 28, 22, 14, 17, 12, 16, 13, 17, 13, 15, 13, 18, 12, 16, 14];
const W24 = [16, 12, 12, 11, 17, 18, 23, 21, 27, 20, 21, 13, 15, 10, 15, 12, 18, 16, 18, 9, 10, 9, 13, 9, 12, 10, 14, 10, 16, 13, 15, 9, 14, 11, 16, 10, 14, 12, 15, 9, 16, 13, 16, 12, 16, 13, 17, 12, 19, 14, 16, 12, 14, 14, 20, 26, 37, 36, 30, 22, 18, 15, 17, 13, 19];
const W25 = [16, 17, 13, 16, 18, 24, 26, 30, 36, 45, 30, 18, 16, 11, 15, 12, 18, 16, 19, 9, 11, 10, 14, 10, 13, 11, 15, 10, 16, 14, 16, 10, 14, 12, 17, 11, 15, 13, 15, 9, 16, 13, 16, 12, 16, 13, 17, 12, 19, 14, 16, 12, 14, 14, 17, 13, 18, 14, 18, 12, 18, 15, 17, 13, 19];
const W26 = [8, 12, 5, 11, 9, 17, 15, 20, 19, 20, 13, 13, 7, 11, 6, 11, 10, 16, 10, 8, 3, 9, 5, 9, 4, 10, 7, 9, 7, 12, 6, 9, 5, 11, 7, 9, 5, 11, 6, 8, 7, 12, 7, 11, 8, 12, 8, 11, 10, 13, 8, 11, 5, 13, 8, 12, 9, 13, 9, 11, 9, 14, 8, 12, 10];
const W27 = [14, 16, 10, 15, 15, 23, 20, 25, 25, 24, 19, 16, 12, 14, 12, 16, 16, 20, 16, 12, 8, 13, 11, 12, 10, 14, 12, 13, 13, 17, 12, 13, 11, 15, 14, 14, 12, 16, 12, 12, 14, 17, 13, 16, 14, 17, 15, 16, 17, 18, 14, 15, 11, 18, 15, 16, 16, 18, 16, 16, 16, 19, 14, 17, 17];
const W28 = [12, 15, 8, 15, 12, 21, 18, 24, 22, 24, 16, 16, 10, 14, 10, 15, 13, 19, 13, 12, 6, 12, 8, 12, 8, 14, 10, 13, 11, 16, 10, 12, 9, 14, 11, 13, 9, 15, 10, 12, 11, 16, 11, 15, 11, 16, 12, 15, 14, 17, 11, 15, 10, 16, 13, 15, 13, 17, 20, 26, 34, 45, 30, 20, 16];
const W29 = [17, 18, 14, 22, 35, 34, 30, 27, 28, 25, 22, 15, 17, 12, 16, 13, 19, 18, 20, 10, 12, 10, 15, 10, 14, 12, 16, 11, 17, 15, 17, 11, 15, 13, 18, 12, 16, 14, 16, 10, 17, 15, 17, 13, 17, 15, 18, 14, 20, 16, 17, 13, 15, 15, 17, 14, 19, 15, 19, 13, 18, 16, 18, 14, 19];
const W30 = [12, 9, 9, 8, 13, 15, 19, 18, 23, 17, 17, 10, 11, 7, 11, 9, 14, 13, 15, 6, 8, 6, 10, 5, 9, 7, 11, 6, 12, 9, 11, 6, 10, 7, 12, 6, 10, 8, 11, 5, 12, 8, 11, 8, 12, 9, 13, 8, 14, 10, 12, 8, 10, 9, 12, 9, 13, 10, 14, 8, 13, 11, 12, 9, 14];

const PERT_T = [T01, T02, T03, T04, T05, T06, T07, T08, T09, T10, T11, T12, T13, T14, T15, T16, T17, T18, T19, T20, T21, T22, T23, T24, T25, T26, T27, T28, T29, T30];
const PERT_W = [W01, W02, W03, W04, W05, W06, W07, W08, W09, W10, W11, W12, W13, W14, W15, W16, W17, W18, W19, W20, W21, W22, W23, W24, W25, W26, W27, W28, W29, W30];

// ---- Daily wind roses (radius per direction: N, NE, E, SE, S, SW, W, NW)
const ROSE_STEP_INDEX = [0, 4, 8, 12, 16, 20, 24, 28, 32, 36, 40, 44, 48, 52, 56, 60, 64];
const ROSES = [
  [3, 4, 4, 3, 4, 39, 4, 2],
  [4, 4, 3, 3, 3, 16, 23, 11],
  [3, 3, 3, 3, 3, 4, 24, 28],
  [5, 5, 3, 3, 5, 22, 22, 8],
  [4, 5, 7, 17, 30, 7, 7, 5],
  [7, 14, 12, 7, 6, 7, 10, 9],
  [6, 20, 15, 6, 5, 5, 5, 5],
  [11, 12, 12, 8, 7, 10, 8, 5],
  [13, 10, 10, 8, 9, 12, 12, 6],
  [19, 6, 4, 6, 9, 13, 10, 6],
  [16, 15, 5, 6, 9, 8, 8, 8],
  [13, 8, 3, 5, 7, 8, 5, 8],
  [6, 18, 3, 5, 9, 9, 7, 5],
  [9, 12, 15, 11, 6, 6, 7, 9],
  [6, 14, 7, 4, 4, 6, 12, 7],
  [8, 15, 4, 6, 8, 10, 8, 6],
  [9, 10, 10, 7, 6, 16, 7, 8],
];

const TEMP_MAX = 232 / 7; // top of the plot in °C
const THICK_LINES = [-40, -30, -20, -10, 10, 20, 30];

function txt(text: string, x: number, y: number, size = 10, bold = false, align = "left") {
  return {
    type: "text",
    x,
    y,
    silent: true,
    z: 10,
    style: { text, fontSize: size, fontFamily: FONT, fontWeight: bold ? "bold" : "normal", fill: "#000", align, verticalAlign: "middle" },
  };
}

function buildOption() {
  const series: any[] = [];
  series.push({
    type: "line",
    xAxisIndex: 0,
    yAxisIndex: 0,
    data: STEPS.map(() => null),
    silent: true,
    z: 1,
    markLine: {
      silent: true,
      symbol: "none",
      label: { show: false },
      lineStyle: { color: "#c0c0c0", width: 2, type: "solid" },
      data: [...THICK_LINES.map((v) => ({ yAxis: v })), { yAxis: 0, lineStyle: { color: "#a0a0a0", width: 2, type: "solid" } }],
    },
  });
  PERT_T.forEach((d, k) => {
    series.push({
      type: "line", xAxisIndex: 0, yAxisIndex: 0, data: d, silent: true, z: 2,
      symbol: "rect", symbolSize: 3, showSymbol: true,
      lineStyle: { width: 1, color: PERT_COLORS[k] }, itemStyle: { color: PERT_COLORS[k] },
    });
  });
  PERT_W.forEach((d, k) => {
    series.push({
      type: "line", xAxisIndex: 0, yAxisIndex: 1, data: d, silent: true, z: 2,
      symbol: "rect", symbolSize: 3, showSymbol: true,
      lineStyle: { width: 1, color: PERT_COLORS[k] }, itemStyle: { color: PERT_COLORS[k] },
    });
  });
  const thick = (d: number[], axis: number, color: string, width: number, z: number) => ({
    type: "line", xAxisIndex: 0, yAxisIndex: axis, data: d, silent: true, z,
    showSymbol: false, symbol: "none", lineStyle: { width, color },
  });
  series.push(thick(GFS_T, 0, "#000000", 3.5, 3));
  series.push(thick(GFS_W, 1, "#000000", 3.5, 3));
  series.push(thick(CTRL_T, 0, "#0000ff", 4, 4));
  series.push(thick(CTRL_W, 1, "#0000ff", 4, 4));
  series.push(thick(MEAN_T, 0, "#ff0000", 5, 5));
  series.push(thick(MEAN_W, 1, "#ff0000", 5, 5));

  const dirs = [[0, -1], [0.7071, -0.7071], [1, 0], [0.7071, 0.7071], [0, 1], [-0.7071, 0.7071], [-1, 0], [-0.7071, -0.7071]];
  series.push({
    type: "custom",
    coordinateSystem: "cartesian2d",
    xAxisIndex: 1,
    yAxisIndex: 2,
    silent: true,
    clip: false,
    z: 6,
    data: ROSE_STEP_INDEX.map((i) => [i, 35]),
    renderItem: (params: any, api: any) => {
      const c = api.coord([api.value(0), api.value(1)]);
      const cx = c[0];
      const cy = c[1];
      const r = ROSES[params.dataIndex];
      const pts = r.map((v, k) => [cx + dirs[k][0] * v, cy + dirs[k][1] * v]);
      const ln = (x1: number, y1: number, x2: number, y2: number) => ({
        type: "line", shape: { x1, y1, x2, y2 }, style: { stroke: "#000", lineWidth: 1 },
      });
      const children: any[] = [
        { type: "polygon", shape: { points: pts }, style: { fill: "#0000ff", stroke: "#0000ff", lineWidth: 0.5 } },
        ln(cx - 15, cy, cx + 15, cy),
        ln(cx, cy - 16, cx, cy + 16),
        ln(cx - 12, cy - 12, cx + 12, cy + 12),
        ln(cx - 12, cy + 12, cx + 12, cy - 12),
        { type: "circle", shape: { cx, cy, r: 2.5 }, style: { fill: "#000" } },
      ];
      if (params.dataIndex === 1) {
        const lab = (t: string, x: number, y: number) => ({
          type: "text", x, y, style: { text: t, fontSize: 10, fontFamily: FONT, fill: "#000", align: "center", verticalAlign: "middle" },
        });
        children.push(lab("N", cx + 1, cy - 20), lab("S", cx + 1, cy + 21), lab("W", cx - 15, cy + 2), lab("E", cx + 18, cy + 2));
      }
      return { type: "group", children };
    },
  });

  const graphic: any[] = [
    txt("Temp. 850hPa", 60, 82),
    txt("Vent 850hPa", 60, 460),
    txt("(°C)", 20, 606),
    txt("(km/h)", 705, 607),
    { type: "rect", silent: true, shape: { x: 35, y: 629.5, width: 30, height: 4 }, style: { fill: "#ff0000" } },
    txt("Moyenne des scénarios", 75, 637),
    { type: "rect", silent: true, shape: { x: 225, y: 634.5, width: 31, height: 4 }, style: { fill: "#0000ff" } },
    txt("Run de contrôle", 265, 637),
    { type: "rect", silent: true, shape: { x: 225, y: 644.5, width: 31, height: 4 }, style: { fill: "#000000" } },
    txt("Run GFS", 265, 647),
    txt("30 Perts.", 340, 652),
    { type: "rect", silent: true, shape: { x: 20.5, y: 667.5, width: 419.5, height: 31.5 }, style: { fill: "none", stroke: "#000", lineWidth: 1 } },
    txt("Diagramme des ensembles GEFS sur 384h : 38.2N 0.6W", 30, 677.5, 11.5, true),
    txt("Vent/flux et température au niveau 850hPa", 30, 692, 10),
    txt("Ensemble GEFS du 08/09/2025 - 18Z", 450, 672, 10),
    txt("Copyright 2025 Meteociel.fr", 450, 692, 11.5, true),
  ];
  PERT_COLORS.forEach((col, k) => {
    const x = 400 + 11 * k;
    graphic.push({ type: "rect", silent: true, shape: { x, y: 650, width: 10, height: 6 }, style: { fill: col } });
    graphic.push(txt(String(k + 1).padStart(2, "0"), x + 5, 644, 7.5, true, "center"));
  });

  const dayInterval = (i: number) => i % 4 === 1;

  return {
    animation: false,
    backgroundColor: "#ffffff",
    grid: [
      { left: 50, top: 0, width: 640, height: 547 },
      { left: 50, top: 547, width: 640, height: 53 },
    ],
    xAxis: [
      {
        type: "category", gridIndex: 0, data: STEPS, boundaryGap: false,
        axisLine: { show: false }, axisTick: { show: false }, axisLabel: { show: false },
        splitLine: { show: true, interval: dayInterval, lineStyle: { color: "#c0c0c0", width: 1 } },
      },
      {
        type: "category", gridIndex: 1, data: STEPS, boundaryGap: false,
        axisLine: { show: true, onZero: false, lineStyle: { color: "#000", width: 1 } },
        axisTick: { show: false },
        axisLabel: {
          show: true, interval: dayInterval, rotate: 90, margin: 2, fontSize: 10, fontFamily: FONT, color: "#000",
          formatter: (_v: string, i: number) => DAY_LABELS[(i - 1) / 4] || "",
        },
        splitLine: { show: true, interval: dayInterval, lineStyle: { color: "#c0c0c0", width: 1 } },
      },
    ],
    yAxis: [
      {
        type: "value", gridIndex: 0, position: "left", min: -45, max: TEMP_MAX, interval: 5,
        axisLine: { show: true, onZero: false, lineStyle: { color: "#000", width: 1 } },
        axisTick: { show: false },
        axisLabel: { align: "left", margin: 30, fontSize: 11, fontFamily: FONT, color: "#000", showMaxLabel: false },
        splitLine: { show: true, showMaxLine: false, lineStyle: { color: "#c0c0c0", width: 1 } },
      },
      {
        type: "value", gridIndex: 0, position: "right", min: 0, max: (TEMP_MAX + 45) * 4, interval: 20,
        axisLine: { show: true, onZero: false, lineStyle: { color: "#000", width: 1 } },
        axisTick: { show: false },
        axisLabel: { margin: 19, fontSize: 11, fontFamily: FONT, color: "#000", showMaxLabel: false },
        splitLine: { show: false },
      },
      {
        type: "value", gridIndex: 1, position: "left", min: 0, max: 53,
        axisLine: { show: true, onZero: false, lineStyle: { color: "#000", width: 1 } },
        axisTick: { show: false }, axisLabel: { show: false }, splitLine: { show: false },
      },
      {
        type: "value", gridIndex: 1, position: "right", min: 0, max: 53,
        axisLine: { show: true, onZero: false, lineStyle: { color: "#000", width: 1 } },
        axisTick: { show: false }, axisLabel: { show: false }, splitLine: { show: false },
      },
    ],
    series,
    graphic,
  };
}

export default function App() {
  const ref = useRef<HTMLDivElement>(null);
  useEffect(() => {
    if (!ref.current) return;
    const chart = echarts.init(ref.current, undefined, { renderer: "svg" });
    chart.setOption(buildOption() as any);
    return () => chart.dispose();
  }, []);
  return <div ref={ref} style={{ position: "fixed", left: 0, top: 0, width: 740, height: 700, background: "#fff" }} />;
}
